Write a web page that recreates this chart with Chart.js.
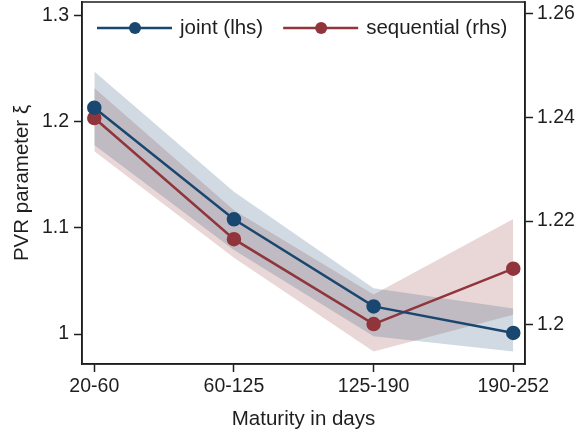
<!DOCTYPE html>
<html>
<head>
<meta charset="utf-8">
<script src="https://cdn.jsdelivr.net/npm/chart.js@4.4.1/dist/chart.umd.min.js"></script>
<style>
  html, body { margin: 0; padding: 0; background: #fff; }
  #wrap { width: 579px; height: 434px; }
</style>
</head>
<body>
<div id="wrap"><canvas id="pvrChart" width="579" height="434"></canvas></div>
<script>
// ==== Data ====
const CATEGORIES = ["20-60", "60-125", "125-190", "190-252"];

// joint estimate, left axis
const JOINT       = [1.213, 1.108, 1.026, 1.001];
const JOINT_UPPER = [1.247, 1.134, 1.043, 1.024];
const JOINT_LOWER = [1.178, 1.079, 0.998, 0.9835];

// sequential estimate, right axis
const SEQ       = [1.2399, 1.2165, 1.2001, 1.2108];
const SEQ_UPPER = [1.2457, 1.2221, 1.2058, 1.2204];
const SEQ_LOWER = [1.2335, 1.2129, 1.1948, 1.2019];

const LEFT_TICKS  = [1, 1.1, 1.2, 1.3];
const RIGHT_TICKS = [1.2, 1.22, 1.24, 1.26];

// ==== Styles ====
const NAVY = "rgb(26, 71, 111)";
const MAROON = "rgb(144, 53, 59)";
const INK = "#1e1e1e";
const FAMILY = "'Liberation Sans', Arial, sans-serif";
const TICK_FONT = { family: FAMILY, size: 19.5 };
const TITLE_FONT = { family: FAMILY, size: 20.5 };

const pts = (arr) => arr.map((v, i) => ({ x: i, y: v }));
const fmt = (v) => String(+v.toFixed(2));

// frame round the plot (top edge has no axis)
const frame = {
  id: "frame",
  afterDatasetsDraw(chart) {
    const { ctx, chartArea: a } = chart;
    ctx.save();
    ctx.strokeStyle = INK;
    ctx.lineWidth = 1.5;
    ctx.strokeRect(a.left, a.top, a.right - a.left, a.bottom - a.top);
    ctx.restore();
  }
};

// legend with line-dot-line symbols, like the original
const lineLegend = {
  id: "lineLegend",
  afterDraw(chart) {
    const { ctx, chartArea } = chart;
    ctx.save();
    ctx.font = `${TITLE_FONT.size}px ${FAMILY}`;
    ctx.textBaseline = "middle";
    let x = chartArea.left + 15;
    const y = chartArea.top + 26;
    [0, 1].forEach(i => {
      const ds = chart.data.datasets[i];
      ctx.strokeStyle = ds.borderColor;
      ctx.lineWidth = 2.5;
      ctx.beginPath(); ctx.moveTo(x, y); ctx.lineTo(x + 75, y); ctx.stroke();
      ctx.fillStyle = ds.borderColor;
      ctx.beginPath(); ctx.arc(x + 38, y, 6, 0, Math.PI * 2); ctx.fill();
      ctx.fillStyle = INK;
      ctx.fillText(ds.label, x + 83, y);
      x += 83 + ctx.measureText(ds.label).width + 20;
    });
    ctx.restore();
  }
};

const lineSet = (label, data, color, axis) => ({
  label, data: pts(data), yAxisID: axis,
  borderColor: color, backgroundColor: color,
  borderWidth: 2.5, pointRadius: 6, pointHoverRadius: 6,
  tension: 0, fill: false
});
const bandSet = (data, axis, fill, bg) => ({
  label: "", data: pts(data), yAxisID: axis,
  borderWidth: 0, pointRadius: 0, tension: 0,
  fill, backgroundColor: bg
});

const axisGrid = { drawOnChartArea: false, color: INK, tickLength: 8, tickWidth: 1.5 };
const axisBorder = { color: INK, width: 1.5 };

// keep the plot box where the original has it: no extra room for label overhang
const noPad = (s) => { s.paddingTop = 0; s.paddingBottom = 0; s.paddingLeft = 0; s.paddingRight = 0; };

new Chart(document.getElementById("pvrChart"), {
  type: "line",
  data: {
    datasets: [
      lineSet("joint (lhs)", JOINT, NAVY, "y"),
      lineSet("sequential (rhs)", SEQ, MAROON, "y2"),
      bandSet(JOINT_UPPER, "y", "+1", "rgba(26, 71, 111, 0.2)"),
      bandSet(JOINT_LOWER, "y", false, "transparent"),
      bandSet(SEQ_UPPER, "y2", "+1", "rgba(144, 53, 59, 0.2)"),
      bandSet(SEQ_LOWER, "y2", false, "transparent")
    ]
  },
  options: {
    responsive: false,
    animation: false,
    devicePixelRatio: 1,
    layout: { autoPadding: false, padding: { top: 2, left: 0, right: 0, bottom: 0 } },
    plugins: { legend: { display: false }, tooltip: { enabled: false } },
    scales: {
      x: {
        type: "linear", min: -0.088, max: 3.084,
        afterBuildTicks: s => { s.ticks = CATEGORIES.map((_, i) => ({ value: i })); },
        afterFit: s => { s.height = 70; noPad(s); },
        ticks: { callback: v => CATEGORIES[v], autoSkip: false, maxRotation: 0, padding: 3, font: TICK_FONT, color: INK },
        grid: axisGrid, border: axisBorder,
        title: { display: true, text: "Maturity in days", font: TITLE_FONT, color: INK, padding: { top: 4, bottom: 2 } }
      },
      y: {
        position: "left", min: 0.9718, max: 1.3125,
        afterBuildTicks: s => { s.ticks = LEFT_TICKS.map(v => ({ value: v })); },
        afterFit: s => { s.width = 82; noPad(s); },
        ticks: { callback: fmt, padding: 5, font: TICK_FONT, color: INK },
        grid: axisGrid, border: axisBorder,
        title: { display: true, text: "PVR parameter ξ", font: TITLE_FONT, color: INK, padding: { top: 10, bottom: 0 } }
      },
      y2: {
        position: "right", min: 1.1924, max: 1.2623,
        afterBuildTicks: s => { s.ticks = RIGHT_TICKS.map(v => ({ value: v })); },
        afterFit: s => { s.width = 54; noPad(s); },
        ticks: { callback: fmt, padding: 4, font: TICK_FONT, color: INK },
        grid: axisGrid, border: axisBorder
      }
    }
  },
  plugins: [frame, lineLegend]
});
</script>
</body>
</html>
